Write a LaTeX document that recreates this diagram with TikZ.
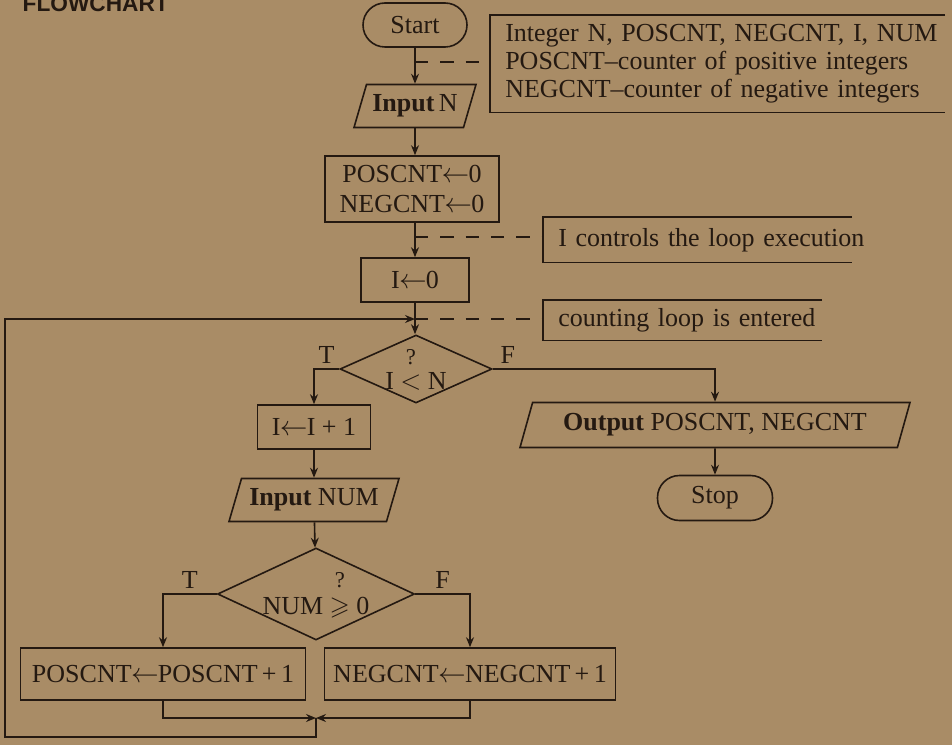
\documentclass[tikz,border=0pt]{standalone}
\usepackage{amsmath,amssymb}
\usepackage{fontspec}
\setmainfont{Liberation Serif}
\newfontfamily\headfont{Liberation Sans}
\usetikzlibrary{shapes.geometric,arrows.meta}
\definecolor{paper}{RGB}{169,140,102}
\definecolor{ink}{RGB}{36,25,17}
% question mark set over a relation sign
\newcommand\qrel[1]{\overset{\raisebox{4pt}{\fontsize{17}{17}\selectfont ?}}{#1}}
% assignment arrow
\newcommand\assign{\kern-0.5pt$\leftarrow$\kern-0.5pt}

\begin{document}
\begin{tikzpicture}[x=0.75pt,y=-0.75pt,
  every node/.style={text=ink,font=\fontsize{19.5}{22}\selectfont},
  line/.style={draw=ink,line width=1.2pt},
  flow/.style={line,-{Stealth[length=7.5pt,width=6pt,inset=2.5pt]}},
  guide/.style={line,dash pattern=on 10pt off 9pt},
  box/.style={line,rectangle,inner sep=0pt,align=center},
  terminal/.style={line,rectangle,rounded corners=16.5pt,inner sep=0pt},
  io/.style={line,trapezium,trapezium left angle=61,trapezium right angle=119,
    trapezium stretches body,inner sep=0pt},
  test/.style={line,diamond,inner sep=-4pt},
  note/.style={anchor=north west,inner xsep=11.25pt,inner ysep=0pt,
    text width=330pt,align=left,font=\fontsize{19.5}{21}\selectfont}]

\useasboundingbox (0,0) rectangle (952,745);
\fill[paper] (0,0) rectangle (952,745);

\node[anchor=base west,font=\headfont\bfseries\fontsize{17}{17}\selectfont] (title) at (18,12) {FLOWCHART};

% main column
\node[terminal,minimum width=78pt,minimum height=33pt] (start) at (415,25) {Start};
\node[io,minimum width=91.5pt,minimum height=32.25pt] (inN) at (415,106) {\textbf{Input}\,N};
\node[box,minimum width=130.5pt,minimum height=49.5pt] (init) at (412,189) {POSCNT\assign0\\NEGCNT\assign0};
\node[box,minimum width=81pt,minimum height=33pt] (i0) at (415,280) {I\assign0};
\node[test,minimum width=114pt,minimum height=51pt,aspect=2.2] (d1) at (416,369) {I $\qrel{<}$ N};

% loop body
\node[box,minimum width=84.75pt,minimum height=33pt] (inc) at (314,427) {I\assign I + 1};
\node[io,minimum width=127.5pt,minimum height=32.25pt] (inNum) at (314,500) {\textbf{Input} NUM};
\node[test,minimum width=147.75pt,minimum height=69pt,aspect=2.14] (d2) at (316,594) {NUM $\qrel{\geqslant}$ 0};
\node[box,minimum width=213.75pt,minimum height=39pt] (pos) at (163,674) {POSCNT\assign POSCNT\,+\,1};
\node[box,minimum width=218.25pt,minimum height=39pt] (neg) at (470,674) {NEGCNT\assign NEGCNT\,+\,1};

% exit
\node[io,minimum width=292.5pt,minimum height=33.75pt] (out) at (715,425) {\textbf{Output} POSCNT, NEGCNT};
\node[terminal,minimum width=86.25pt,minimum height=33.75pt] (stop) at (715,498) {Stop};

% comments
\node[note,minimum height=72.75pt] (note1) at (490,15)
  {Integer N, POSCNT, NEGCNT, I, NUM\\POSCNT–counter of positive integers\\NEGCNT–counter of negative integers};
\node[note,minimum height=33.75pt] (note2) at (543,217) {I controls the loop execution};
\node[note,minimum height=30pt] (note3) at (543,300) {counting loop is entered};
\draw[line] ([xshift=341.25pt]note1.north west) -- (note1.north west) -- (note1.south west) -- ([xshift=341.25pt]note1.south west);
\draw[line] ([xshift=231.75pt]note2.north west) -- (note2.north west) -- (note2.south west) -- ([xshift=231.75pt]note2.south west);
\draw[line] ([xshift=209.25pt]note3.north west) -- (note3.north west) -- (note3.south west) -- ([xshift=209.25pt]note3.south west);

\coordinate (n1) at (415,62);
\coordinate (n2) at (415,237);
\coordinate (j1) at (415,319);
\coordinate (j2) at (316,718);
\coordinate (c1) at (5,737);

% connectors
\draw[flow] (start) -- (inN);
\draw[flow] (inN.south) -- (inN.south |- init.north);
\draw[flow] (init.south -| i0.north) -- (i0.north);
\draw[flow] (i0.south) -- (i0.south |- d1.north);
\draw[guide] (n1) -- (note1.west |- n1);
\draw[guide] (n2) -- (note2.west |- n2);
\draw[guide] (j1) -- (note3.west |- j1);

\draw[flow] (d1.west) -| node[pos=.25,above]{T} (inc.north);
\draw[flow] (d1.east) -| node[pos=.034,above]{F} (out.north);
\draw[flow] (out) -- (stop);
\draw[flow] (inc) -- (inNum);
\draw[flow] (inNum) -- (d2);
\draw[flow] (d2.west) -| node[pos=.25,above]{T} (pos.north);
\draw[flow] (d2.east) -| node[pos=.25,above]{F} (neg.north);
\draw[flow] (pos.south) |- (j2);
\draw[flow] (neg.south) |- (j2);
\draw[flow] (j2) |- (c1) |- (j1);
\end{tikzpicture}
\end{document}
